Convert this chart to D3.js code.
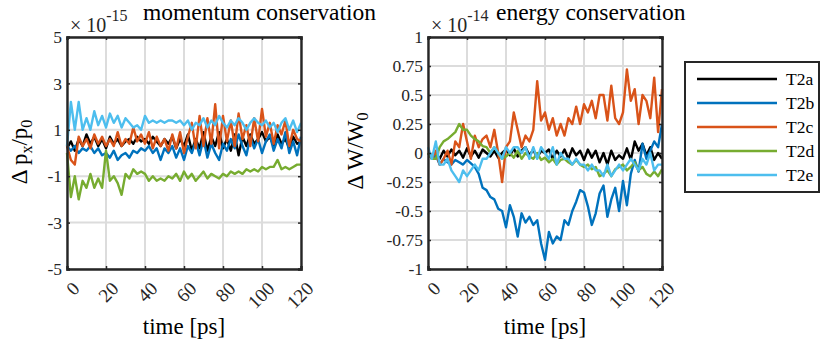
<!DOCTYPE html>
<html><head><meta charset="utf-8">
<script src="https://cdn.jsdelivr.net/npm/d3@7/dist/d3.min.js"></script>
<style>body{margin:0;background:#fff}svg{display:block}text{font-family:"Liberation Serif","Times New Roman",serif}</style>
</head><body><svg id="c" width="822" height="346"></svg>
<script>
const time = d3.range(0, 121, 2);
const seriesNames = ["T2a","T2b","T2c","T2d","T2e"];
const colors = ["#000000","#0072BD","#D95319","#77AC30","#4DBEEE"];
const xTicks = [0,20,40,60,80,100,120];
const momTicks = [-5,-3,-1,1,3,5];
const enTicks = [-1,-0.75,-0.5,-0.25,0,0.25,0.5,0.75,1];
const enTickLabels = ["-1","-0.75","-0.5","-0.25","0","0.25","0.5","0.75","1"];

// momentum conservation (x 1e-15)
const momT2a = [0.2,0.5,0.1,0.6,0.3,0.8,0.4,0.7,0.3,0.6,0.2,0.7,0.4,0.6,0.3,0.5,0.6,0.4,0.7,0.5,0.6,0.4,0.7,0.5,0.3,0.6,0.4,0.7,0.2,0.6,0.3,0.8,0.1,0.6,0.2,0.9,0.1,0.7,0.3,0.9,0.2,0.6,0.1,0.8,-0.1,0.7,0.3,0.8,0.4,0.6,0.9,0.5,0.7,0.3,0.8,0.4,0.6,0.2,0.7,0.4,0.5];
const momT2b = [0.3,0.1,0.3,0.0,0.2,0.1,0.3,0.0,0.2,-0.1,0.0,-0.2,0.1,-0.3,-0.1,0.0,-0.2,0.1,0.0,0.2,0.1,0.3,0.0,0.2,-0.3,0.2,0.0,0.3,-0.2,0.2,-0.3,0.3,0.0,0.5,-0.1,0.6,-0.2,0.4,0.0,-0.3,0.4,0.1,0.6,0.2,0.8,0.3,-0.1,0.7,0.2,0.6,0.0,0.5,0.8,0.1,0.6,0.2,0.9,0.0,0.5,-0.1,0.7];
const momT2c = [0.3,-0.3,-0.5,0.7,0.3,0.6,0.2,0.8,0.4,0.7,0.3,0.6,0.3,0.9,0.3,0.6,0.4,1.1,0.5,0.8,0.4,0.9,0.2,0.7,0.3,0.6,0.1,0.8,0.2,0.9,0.0,0.7,1.3,0.2,1.6,0.3,1.5,0.4,2.1,0.2,1.6,0.5,1.4,0.3,1.7,0.6,1.2,0.3,1.5,0.5,1.9,0.7,1.3,0.4,1.2,0.8,1.4,0.3,1.0,0.6,0.5];
const momT2d = [0.0,-1.9,-1.0,-2.0,-1.2,-1.5,-0.9,-1.5,-1.1,-1.5,0.1,-1.2,-1.0,-1.3,-1.8,-0.9,-1.1,-0.7,-0.9,-0.8,-0.9,-1.2,-1.0,-1.2,-1.1,-1.2,-1.0,-1.1,-0.9,-1.2,-0.8,-1.1,-0.9,-1.2,-1.0,-0.8,-1.1,-0.9,-1.0,-1.1,-0.9,-1.0,-0.8,-0.9,-0.8,-0.9,-0.7,-0.8,-0.7,-0.8,-0.6,-0.7,-0.6,-0.6,-0.3,-0.7,-0.6,-0.7,-0.6,-0.5,-0.5];
const momT2e = [0.3,2.2,1.0,2.2,1.0,1.5,1.0,1.8,1.2,1.6,1.1,1.7,1.3,1.6,1.1,1.5,1.3,1.1,1.2,1.0,1.6,1.3,1.4,1.3,1.4,1.3,1.4,1.4,1.3,1.4,1.2,1.4,1.0,1.3,1.2,1.5,1.1,1.4,1.2,1.6,1.3,1.1,1.4,1.2,1.5,1.3,1.0,1.3,1.5,1.3,1.2,1.4,1.1,1.3,0.9,1.3,1.5,1.0,1.4,0.9,1.3];

// energy conservation (x 1e-14)
const enT2a = [0,-0.02,0,-0.05,0.02,-0.03,0.03,-0.02,0.02,-0.04,0.04,-0.03,0.02,-0.04,0.03,0,-0.03,0.02,-0.04,0,0.03,-0.02,0.04,-0.03,0.02,0.05,-0.02,0.03,-0.04,0.02,0,0.03,-0.05,0.02,-0.03,0.03,-0.05,0.04,-0.02,0.02,-0.06,0.03,-0.04,0.02,-0.08,0,-0.1,0.02,-0.06,-0.02,-0.05,0.04,-0.06,0.1,0.02,0.08,-0.02,0.05,-0.06,0,-0.05];
const enT2b = [0,-0.05,-0.02,-0.1,-0.05,-0.08,-0.1,-0.06,-0.08,-0.1,-0.06,-0.09,-0.12,-0.18,-0.3,-0.32,-0.38,-0.4,-0.48,-0.5,-0.64,-0.45,-0.55,-0.72,-0.52,-0.6,-0.55,-0.62,-0.58,-0.78,-0.92,-0.68,-0.78,-0.72,-0.75,-0.58,-0.62,-0.5,-0.42,-0.32,-0.34,-0.46,-0.62,-0.52,-0.35,-0.28,-0.55,-0.4,-0.3,-0.5,-0.24,-0.45,-0.18,-0.06,-0.16,0.08,-0.05,0.02,0.1,0.05,0.25];
const enT2c = [0,-0.05,0.02,-0.1,-0.05,0.02,-0.1,0.1,0.05,0.25,0.1,-0.05,0.15,0.05,0.12,0.15,0.05,0.2,0,-0.25,0.05,0.1,0.35,0.2,0.05,0.15,0.1,0.2,0.62,0.28,0.35,0.2,0.3,0.15,0.25,0.15,0.3,0.25,0.4,0.25,0.42,0.35,0.45,0.3,0.5,0.5,0.28,0.58,0.3,0.25,0.35,0.72,0.45,0.55,0.25,0.5,0.45,0.3,0.65,0.18,0.55];
const enT2d = [0,-0.05,-0.05,0.05,0.1,0.12,0.15,0.18,0.25,0.2,0.2,0.15,0.12,0.1,0.06,0.05,0,0.05,0,-0.05,-0.03,0,-0.04,0.02,-0.05,0,-0.03,-0.05,0,-0.06,-0.04,-0.08,-0.05,-0.1,-0.06,-0.05,-0.08,-0.1,-0.06,-0.1,-0.12,-0.1,-0.14,-0.12,-0.2,-0.18,-0.15,-0.2,-0.14,-0.12,-0.1,-0.15,-0.12,-0.08,-0.15,-0.12,-0.18,-0.2,-0.16,-0.2,-0.14];
const enT2e = [0.05,-0.05,0.1,-0.1,-0.1,-0.05,-0.15,-0.2,-0.25,-0.15,-0.2,-0.15,-0.1,-0.15,-0.05,-0.05,0,0.05,0,-0.05,0.05,0,0.05,0.05,0,0.05,-0.05,0.05,-0.05,0.05,0,-0.05,0.05,-0.1,0,-0.05,-0.05,-0.1,-0.05,-0.1,-0.1,-0.15,-0.1,-0.15,-0.15,-0.2,-0.1,-0.2,-0.15,-0.1,-0.15,-0.1,-0.05,-0.1,-0.15,-0.05,-0.1,0,-0.15,-0.1,-0.1];

const momSeries = [momT2a,momT2b,momT2c,momT2d,momT2e];
const enSeries = [enT2a,enT2b,enT2c,enT2d,enT2e];

const svg = d3.select("#c");
const AX = "#262626";
const yTop = 37, yBot = 269;

function panel(x0, x1, yDomain, yTicks, yLabels, series, exp, title, ylabelFn, ylabX) {
  const x = d3.scaleLinear().domain([0,120]).range([x0,x1]);
  const y = d3.scaleLinear().domain(yDomain).range([yBot, yTop]);
  const g = svg.append("g");
  g.selectAll(".gx").data(xTicks).join("line")
    .attr("x1", d=>x(d)).attr("x2", d=>x(d)).attr("y1", yTop).attr("y2", yBot)
    .attr("stroke", "#dcdcdc").attr("stroke-width", 2);
  g.selectAll(".gy").data(yTicks).join("line")
    .attr("y1", d=>y(d)).attr("y2", d=>y(d)).attr("x1", x0).attr("x2", x1)
    .attr("stroke", "#dcdcdc").attr("stroke-width", 2);
  const line = d3.line().x((d,i)=>x(time[i])).y(d=>y(d));
  series.forEach((s,k)=>{
    g.append("path").datum(s).attr("d", line).attr("fill","none")
      .attr("stroke", colors[k]).attr("stroke-width", 2.4).attr("stroke-linejoin","round");
  });
  const axB = d3.axisBottom(x).tickValues(xTicks).tickSize(-3).tickFormat("");
  const axT = d3.axisTop(x).tickValues(xTicks).tickSize(-3).tickFormat("");
  const axL = d3.axisLeft(y).tickValues(yTicks).tickSize(-3).tickFormat("");
  const axR = d3.axisRight(y).tickValues(yTicks).tickSize(-3).tickFormat("");
  [[axB,`translate(0,${yBot})`],[axT,`translate(0,${yTop})`],[axL,`translate(${x0},0)`],[axR,`translate(${x1},0)`]].forEach(([a,t])=>{
    const ga = g.append("g").attr("transform", t).call(a);
    ga.select(".domain").attr("stroke", AX).attr("stroke-width", 2.4);
    ga.selectAll(".tick line").attr("stroke", AX).attr("stroke-width", 1.5);
  });
  g.selectAll(".yl").data(yTicks).join("text")
    .attr("x", x0 - 5).attr("y", d=>y(d)).attr("dy","0.35em")
    .attr("text-anchor","end").attr("font-size", 17.5).attr("fill", AX)
    .text((d,i)=>yLabels[i]);
  xTicks.forEach(t=>{
    g.append("text").attr("transform", `translate(${x(t)+9},${yBot+16}) rotate(-45)`)
      .attr("text-anchor","end").attr("dy","0.35em").attr("font-size", 19).attr("fill", AX).text(t);
  });
  g.append("text").attr("x", (x0+x1)/2).attr("y", 334).attr("text-anchor","middle")
    .attr("font-size", 23).attr("fill","#000").text("time [ps]");
  const ex = g.append("text").attr("x", x0+3).attr("y", 32).attr("font-size", 20).attr("fill", AX);
  ex.append("tspan").text("\u00d7 10");
  ex.append("tspan").attr("dy", -11).attr("font-size", 16).text(exp);
  g.append("text").attr("x", title.x).attr("y", 20).attr("font-size", 23.5).attr("fill","#000").text(title.t);
  ylabelFn(g, ylabX);
}

panel(67, 301, [-5,5], momTicks, momTicks.map(String), momSeries, "-15",
  {x:143, t:"momentum conservation"},
  (g, lx)=>{
    const t = g.append("text").attr("transform", `translate(${lx},152) rotate(-90)`)
      .attr("text-anchor","middle").attr("font-size", 23).attr("fill","#000");
    t.append("tspan").text("\u0394 p");
    t.append("tspan").attr("dy", 5).attr("font-size", 16).text("x");
    t.append("tspan").attr("dy", -5).text("/p");
    t.append("tspan").attr("dy", 5).attr("font-size", 16).text("0");
  }, 27);

panel(428, 662, [-1,1], enTicks, enTickLabels, enSeries, "-14",
  {x:496, t:"energy conservation"},
  (g, lx)=>{
    const t = g.append("text").attr("transform", `translate(${lx},151) rotate(-90)`)
      .attr("text-anchor","middle").attr("font-size", 23).attr("fill","#000");
    t.append("tspan").text("\u0394 W/W");
    t.append("tspan").attr("dy", 5).attr("font-size", 16).text("0");
  }, 363);

const lg = svg.append("g");
lg.append("rect").attr("x", 685).attr("y", 62).attr("width", 134).attr("height", 130)
  .attr("fill","#fff").attr("stroke", AX).attr("stroke-width", 2);
const ly = d3.scalePoint().domain(seriesNames).range([79, 175]);
seriesNames.forEach((n,i)=>{
  lg.append("line").attr("x1", 697).attr("x2", 777).attr("y1", ly(n)).attr("y2", ly(n))
    .attr("stroke", colors[i]).attr("stroke-width", 2.4);
  lg.append("text").attr("x", 786).attr("y", ly(n)).attr("dy","0.35em")
    .attr("font-size", 17.5).attr("fill","#000").text(n);
});
</script></body></html>
